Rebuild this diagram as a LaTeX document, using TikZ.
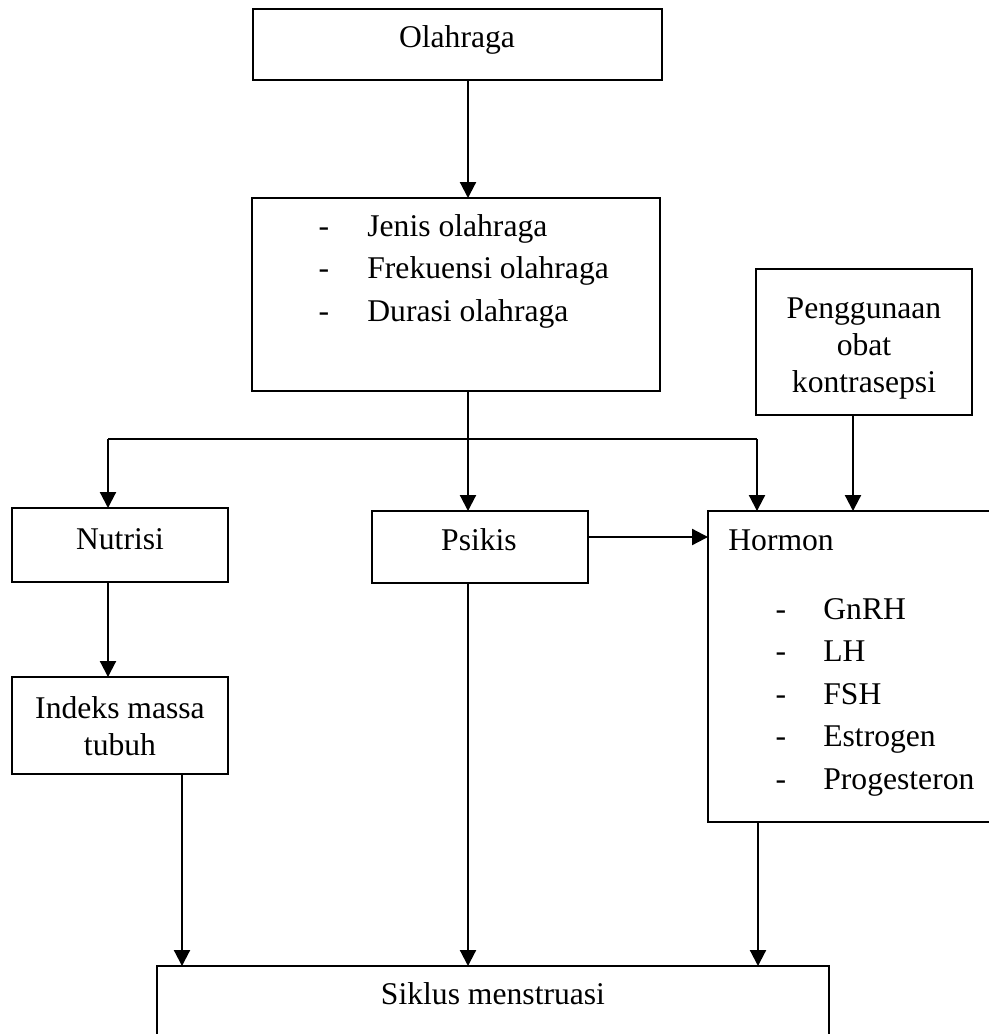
\documentclass[tikz,border=0pt]{standalone}
\usepackage{fontspec}
\setmainfont{Liberation Serif}
\usetikzlibrary{arrows.meta}
\tikzset{
  box/.style={draw, line width=1.2pt, inner sep=0pt, outer sep=0pt},
  arr/.style={line width=1.2pt, -{Triangle[length=0.32cm,width=0.32cm]}},
  feed/.style={line width=0.7pt},
  txt/.style={font=\fontsize{18}{24}\selectfont, inner sep=0pt, anchor=base},
  ltxt/.style={txt, anchor=base west}
}
\begin{document}
\begin{tikzpicture}[x=0.02cm,y=-0.02cm]
\useasboundingbox (0,0) rectangle (989,1034);
\clip (0,0) rectangle (989,1034);
\fill[white] (0,0) rectangle (989,1034);

% boxes
\node[box, minimum width=8.18cm, minimum height=1.42cm] (olah) at (457.5,44.5) {};
\node[box, minimum width=8.16cm, minimum height=3.86cm] (faktor) at (456,294.5) {};
\node[box, minimum width=4.32cm, minimum height=2.92cm] (obat) at (864,342) {};
\node[box, minimum width=4.32cm, minimum height=1.48cm] (nutrisi) at (120,545) {};
\node[box, minimum width=4.32cm, minimum height=1.94cm] (indeks) at (120,725.5) {};
\node[box, minimum width=4.32cm, minimum height=1.44cm] (psikis) at (480,547) {};
\node[box, minimum width=6.44cm, minimum height=6.22cm] (hormon) at (869,666.5) {};
\node[box, minimum width=13.44cm, minimum height=1.8cm] (siklus) at (493,1011) {};

% texts
\node[txt] (tOlah) at (457,48) {Olahraga};
\node[txt] (d1) at (324,236) {-};
\node[ltxt] (t1) at (367,236) {Jenis olahraga};
\node[txt] (d2) at (324,278.5) {-};
\node[ltxt] (t2) at (367,278.5) {Frekuensi olahraga};
\node[txt] (d3) at (324,321) {-};
\node[ltxt] (t3) at (367,321) {Durasi olahraga};

\node[txt] (o1) at (864,318) {Penggunaan};
\node[txt] (o2) at (864,355) {obat};
\node[txt] (o3) at (864,392) {kontrasepsi};

\node[txt] (tNut) at (120,549) {Nutrisi};
\node[txt] (i1) at (120,718) {Indeks massa};
\node[txt] (i2) at (120,755) {tubuh};
\node[txt] (tPsi) at (479,550) {Psikis};

\node[ltxt] (tHor) at (728,550) {Hormon};
\node[txt] (h1d) at (781,619) {-};
\node[ltxt] (h1) at (823,619) {GnRH};
\node[txt] (h2d) at (781,661.5) {-};
\node[ltxt] (h2) at (823,661.5) {LH};
\node[txt] (h3d) at (781,704) {-};
\node[ltxt] (h3) at (823,704) {FSH};
\node[txt] (h4d) at (781,746.5) {-};
\node[ltxt] (h4) at (823,746.5) {Estrogen};
\node[txt] (h5d) at (781,789) {-};
\node[ltxt] (h5) at (823,789) {Progesteron};

\node[txt] (tSik) at (493,1004) {Siklus menstruasi};

% connector positions
\coordinate (cx) at (468,0);
\coordinate (bl) at (108,439);
\coordinate (br) at (757,439);
\coordinate (ox) at (853,0);
\coordinate (iy) at (182,0);
\coordinate (hx) at (758,0);
\coordinate (py) at (0,537);

% connectors
\draw[arr] (olah.south -| cx) -- (faktor.north -| cx);
\draw[arr] (faktor.south -| cx) -- (psikis.north -| cx);
\draw[feed] (bl) -- (br);
\draw[arr] (bl) -- (nutrisi.north -| bl);
\draw[arr] (br) -- (hormon.north -| br);
\draw[arr] (obat.south -| ox) -- (hormon.north -| ox);
\draw[arr] (nutrisi.south -| bl) -- (indeks.north -| bl);
\draw[arr] (psikis.east |- py) -- (hormon.west |- py);
\draw[arr] (indeks.south -| iy) -- (siklus.north -| iy);
\draw[arr] (psikis.south -| cx) -- (siklus.north -| cx);
\draw[arr] (hormon.south -| hx) -- (siklus.north -| hx);
\end{tikzpicture}
\end{document}
